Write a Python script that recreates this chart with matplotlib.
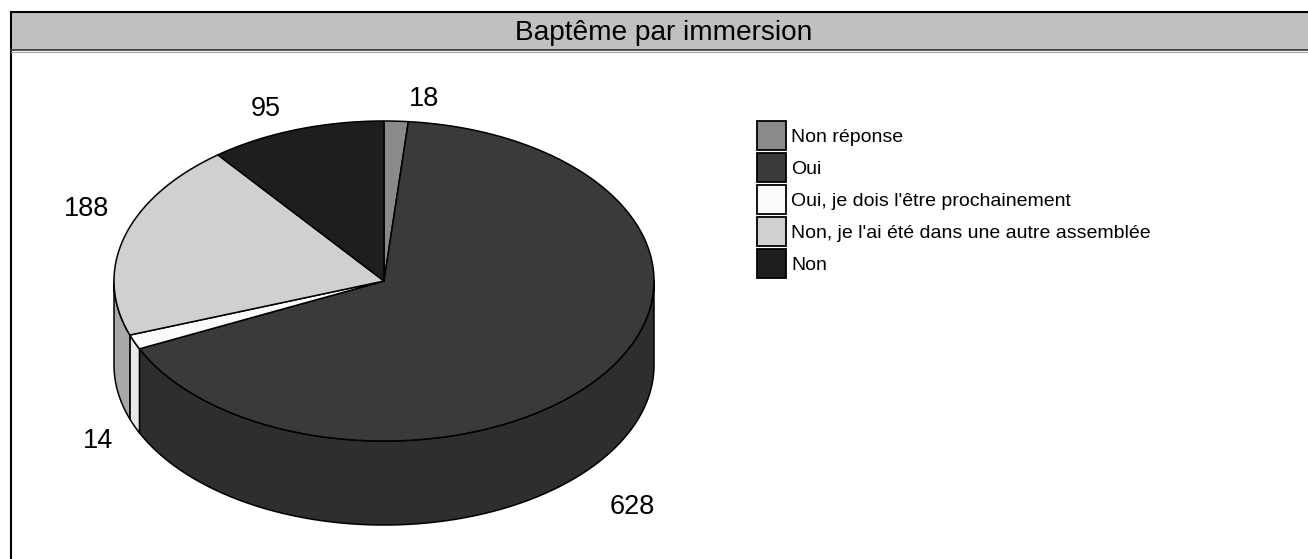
import numpy as np
import matplotlib
matplotlib.use("Agg")
import matplotlib.pyplot as plt
from matplotlib.patches import Polygon, Patch, Rectangle

plt.rcParams['font.family'] = ['Liberation Sans', 'DejaVu Sans']

title = "Baptême par immersion"
categories = ["Non réponse", "Oui", "Oui, je dois l'être prochainement",
              "Non, je l'ai été dans une autre assemblée", "Non"]
values = [18, 628, 14, 188, 95]
top_colors = ["#8a8a8a", "#3a3a3a", "#fbfbfb", "#d0d0d0", "#1e1e1e"]
side_colors = ["#6e6e6e", "#2e2e2e", "#e8e8e8", "#a8a8a8", "#181818"]
label_pos = [(424, 99), (632, 507), (98, 441), (86, 209), (266, 109)]

fig = plt.figure(figsize=(13.08, 5.59), dpi=100)
ax = fig.add_axes([0, 0, 1, 1])
ax.set_xlim(0, 1308)
ax.set_ylim(559, 0)
ax.axis('off')

# header band and frame
ax.add_patch(Rectangle((11, 12), 1297, 38, fc="#c0c0c0", ec="none"))
ax.plot([1308, 11, 11], [12, 12, 559], color="black", lw=1.5, solid_joinstyle='miter')
ax.plot([11, 1308], [50, 50], color="#333333", lw=1.2)
ax.plot([11, 1308], [51.5, 51.5], color="#a0a0a0", lw=0.8)
ax.text(664, 32.5, title, ha='center', va='center', fontsize=20.2)

# pie geometry
cx, cy, rx, ry, depth = 384, 281, 270, 160, 84


def rim(a, b):
    t = np.radians(np.linspace(a, b, max(int(abs(b - a) * 2), 2)))
    return cx + rx * np.sin(t), cy - ry * np.cos(t)


edges = np.concatenate([[0], np.cumsum(values)]) / sum(values) * 360
edges[1:-1] -= 1.7  # inner edges sit a bit earlier in the 3d view

# sides, only the front half shows
for i in range(len(values)):
    a, b = max(edges[i], 90), min(edges[i + 1], 270)
    if a >= b:
        continue
    x, y = rim(a, b)
    pts = np.column_stack([np.r_[x, x[::-1]], np.r_[y, y[::-1] + depth]])
    ax.add_patch(Polygon(pts, closed=True, fc=side_colors[i], ec="black", lw=1.1, joinstyle='round'))

# tops
for i in range(len(values)):
    x, y = rim(edges[i], edges[i + 1])
    pts = np.column_stack([np.r_[cx, x], np.r_[cy, y]])
    ax.add_patch(Polygon(pts, closed=True, fc=top_colors[i], ec="black", lw=1.1, joinstyle='round'))

for v, (lx, ly) in zip(values, label_pos):
    ax.text(lx, ly, str(v), ha='center', va='center', fontsize=19.5)

handles = [Patch(fc=c, ec="black", lw=1.3) for c in top_colors]
ax.legend(handles, categories, loc='upper left', bbox_to_anchor=(757, 121), bbox_transform=ax.transData,
          frameon=False, fontsize=14, handlelength=1.5, handleheight=1.92, handletextpad=0.25,
          labelspacing=0.15, borderpad=0, borderaxespad=0)

fig.savefig("out.png", dpi=100)
